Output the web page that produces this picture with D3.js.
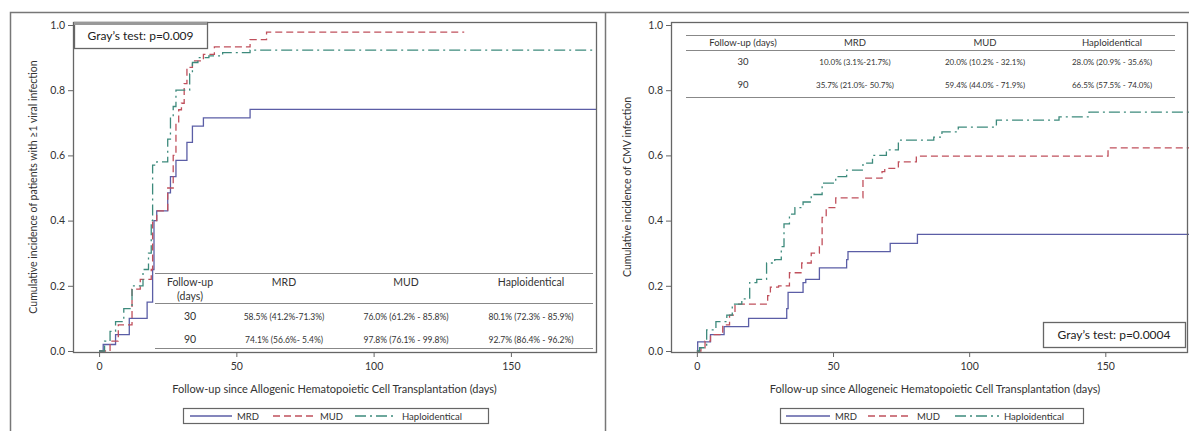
<!DOCTYPE html>
<html>
<head>
<meta charset="utf-8">
<script src="https://cdn.jsdelivr.net/npm/d3@7"></script>
<style>
  body { margin: 0; background: #fff; }
  svg { font-family: Lato, "Open Sans", sans-serif; }
</style>
</head>
<body>
<svg id="chart" width="1189" height="431"></svg>
<script>
// group names and tick values
const groups = ["MRD", "MUD", "Haploidentical"];
const xTicks = [0, 50, 100, 150];
const yTicks = [0, 0.2, 0.4, 0.6, 0.8, 1.0];
const tableDays = ["30", "90"];

// left panel: >=1 viral infection, [day, cumulative incidence]
const viralMRD = [[0, 0], [1.5, 0.02], [6, 0.05], [11, 0.10], [17.5, 0.15], [19.5, 0.25], [20, 0.40],
  [21, 0.43], [25, 0.485], [26, 0.535], [28, 0.585], [32, 0.64], [34, 0.69], [38, 0.715], [55, 0.741]];
const viralMUD = [[0, 0], [4, 0.03], [7, 0.08], [12, 0.19], [15, 0.22], [19, 0.25], [19.5, 0.40],
  [21, 0.43], [25, 0.50], [27, 0.60], [28, 0.70], [29, 0.74], [30, 0.76], [31, 0.82], [32, 0.87],
  [34, 0.89], [38, 0.91], [42, 0.933], [55, 0.955], [61, 0.978]];
const viralHaplo = [[0, 0], [2, 0.03], [4, 0.06], [6, 0.09], [9, 0.13], [12, 0.20], [16, 0.25],
  [18, 0.30], [19, 0.40], [19.5, 0.57], [21, 0.58], [25, 0.65], [26, 0.72], [27, 0.75], [28, 0.80],
  [33, 0.85], [34, 0.885], [36, 0.90], [40, 0.905], [45, 0.915], [55, 0.923]];
const viralEnd = [181, 133, 181];
const viralMRDci = ["58.5% (41.2%-71.3%)", "74.1% (56.6%- 5.4%)"];
const viralMUDci = ["76.0% (61.2% - 85.8%)", "97.8% (76.1% - 99.8%)"];
const viralHaploci = ["80.1% (72.3% - 85.9%)", "92.7% (86.4% - 96.2%)"];

// right panel: CMV infection
const cmvMRD = [[0, 0], [0.3, 0.028], [5, 0.05], [10, 0.075], [19, 0.10], [33, 0.13], [33.5, 0.18],
  [39, 0.21], [40, 0.22], [45, 0.255], [55, 0.28], [55.5, 0.305], [71, 0.33], [81, 0.358]];
const cmvMUD = [[0, 0], [1.5, 0.01], [3, 0.03], [5, 0.05], [9.5, 0.08], [12, 0.11], [14, 0.144],
  [26, 0.17], [27, 0.196], [30, 0.20], [34, 0.24], [38.5, 0.27], [42, 0.30], [45, 0.32], [46, 0.41],
  [47.5, 0.44], [51, 0.47], [61, 0.53], [68, 0.55], [69, 0.56], [74, 0.58], [80.6, 0.598], [151, 0.623]];
const cmvHaplo = [[0, 0], [1, 0.01], [3.6, 0.065], [7, 0.09], [11, 0.11], [13, 0.144], [16.5, 0.16],
  [19.4, 0.21], [22, 0.22], [25.6, 0.27], [28.6, 0.28], [31, 0.32], [32, 0.39], [34, 0.42], [36, 0.44],
  [39, 0.457], [42, 0.48], [46, 0.515], [51, 0.535], [55, 0.555], [61, 0.576], [64.5, 0.60],
  [69.6, 0.617], [74, 0.647], [87, 0.656], [90, 0.672], [96, 0.687], [110, 0.708], [133, 0.718], [144, 0.733]];
const cmvEnd = [181, 181, 181];
const cmvMRDci = ["10.0% (3.1%-21.7%)", "35.7% (21.0%- 50.7%)"];
const cmvMUDci = ["20.0% (10.2% - 32.1%)", "59.4% (44.0% - 71.9%)"];
const cmvHaploci = ["28.0% (20.9% - 35.6%)", "66.5% (57.5% - 74.0%)"];

const colors = ["#5b5ea6", "#c0505c", "#3d8a7c"];
const dashes = [null, "7,4", "11,4,2,4"];
const textColor = "#333";

const svg = d3.select("#chart");

// outer frame and divider
svg.append("rect").attr("x", 10.5).attr("y", 12.5).attr("width", 1200).attr("height", 440)
  .attr("fill", "none").attr("stroke", "#777").attr("stroke-width", 1.5);
svg.append("line").attr("x1", 605.5).attr("x2", 605.5).attr("y1", 12).attr("y2", 431)
  .attr("stroke", "#777").attr("stroke-width", 1.5);

function drawPanel(p) {
  const x = d3.scaleLinear().domain([-9.5, p.xMax]).range([p.left, p.right]);
  const y = d3.scaleLinear().domain([0, 1]).range([351, 25]);
  const g = svg.append("g");

  // curves
  const line = d3.line().curve(d3.curveStepAfter).x(d => x(d[0])).y(d => y(d[1]));
  p.series.forEach((s, i) => {
    const pts = s.concat([[p.ends[i], s[s.length - 1][1]]]);
    g.append("path").datum(pts)
      .attr("d", line)
      .attr("fill", "none")
      .attr("stroke", colors[i])
      .attr("stroke-width", 1.3)
      .attr("stroke-dasharray", dashes[i]);
  });

  // table
  const t = p.table;
  const tg = g.append("g").attr("fill", textColor).attr("font-size", t.fs);
  if (t.bg) {
    tg.append("rect").attr("x", t.x0).attr("y", t.lines[0]).attr("width", t.x1 - t.x0)
      .attr("height", t.lines[2] - t.lines[0]).attr("fill", "#fff");
  }
  t.lines.forEach(ly => {
    tg.append("line").attr("x1", t.x0).attr("x2", t.x1).attr("y1", ly + 0.5).attr("y2", ly + 0.5)
      .attr("stroke", "#888").attr("stroke-width", 1.2);
  });
  t.head.forEach((h, i) => {
    tg.append("text").attr("x", t.cols[i]).attr("y", t.headY[i] || t.headY[0])
      .attr("text-anchor", "middle").attr("font-size", t.hfs).text(h);
  });
  if (t.sub) {
    tg.append("text").attr("x", t.cols[0]).attr("y", t.subY)
      .attr("text-anchor", "middle").attr("font-size", t.hfs).text(t.sub);
  }
  tableDays.forEach((d, r) => {
    tg.append("text").attr("x", t.cols[0]).attr("y", t.rows[r])
      .attr("text-anchor", "middle").attr("font-size", t.hfs).text(d);
    t.ci.forEach((c, k) => {
      tg.append("text").attr("x", t.cols[k + 1]).attr("y", t.rows[r])
        .attr("text-anchor", "middle").text(c[r]);
    });
  });

  // plot frame
  g.append("rect").attr("x", p.left + 0.5).attr("y", 22.5)
    .attr("width", p.right - p.left).attr("height", 330)
    .attr("fill", "none").attr("stroke", "#666").attr("stroke-width", 1.3);

  // axes
  const xa = g.append("g").attr("transform", "translate(0,352)")
    .call(d3.axisBottom(x).tickValues(xTicks).tickSize(5).tickPadding(6).tickFormat(d3.format("d")));
  const ya = g.append("g").attr("transform", `translate(${p.left},0)`)
    .call(d3.axisLeft(y).tickValues(yTicks).tickSize(5).tickPadding(3).tickFormat(d3.format(".1f")));
  [xa, ya].forEach(a => {
    a.select(".domain").remove();
    a.selectAll("line").attr("stroke", "#666");
    a.selectAll("text").attr("fill", textColor).attr("font-size", 10.5).attr("font-family", "Lato");
  });

  // titles
  g.append("text").attr("x", (p.left + p.right) / 2 + p.xtOff).attr("y", 393)
    .attr("text-anchor", "middle").attr("font-size", 11).attr("fill", textColor).text(p.xTitle);
  g.append("text").attr("transform", `translate(${p.ytX},187) rotate(-90)`)
    .attr("text-anchor", "middle").attr("font-size", 10.5).attr("fill", textColor).text(p.yTitle);

  // Gray's test box
  const b = p.gray;
  g.append("rect").attr("x", b.x + 0.5).attr("y", b.y + 0.5).attr("width", b.w).attr("height", b.h)
    .attr("fill", "#fff").attr("stroke", "#666").attr("stroke-width", 1.3);
  if (b.thickTop) {
    g.append("line").attr("x1", b.x).attr("x2", b.x + b.w).attr("y1", b.y + 1.5).attr("y2", b.y + 1.5)
      .attr("stroke", "#999").attr("stroke-width", 3);
  }
  g.append("text").attr("x", b.x + b.w / 2).attr("y", b.y + b.h / 2 + 4.5)
    .attr("text-anchor", "middle").attr("font-size", 12).attr("fill", "#222").text(b.text);

  // legend
  const L = p.legend;
  g.append("rect").attr("x", L.x + 0.5).attr("y", 408.5).attr("width", L.w).attr("height", 15)
    .attr("fill", "#fff").attr("stroke", "#666").attr("stroke-width", 1.2);
  groups.forEach((name, i) => {
    const lx = L.items[i];
    g.append("line").attr("x1", lx).attr("x2", lx + L.len).attr("y1", 416).attr("y2", 416)
      .attr("stroke", colors[i]).attr("stroke-width", 1.3).attr("stroke-dasharray", dashes[i]);
    g.append("text").attr("x", lx + L.len + 5).attr("y", 419.5)
      .attr("font-size", 9.5).attr("fill", textColor).text(name);
  });
}

drawPanel({
  left: 73, right: 596, xMax: 181,
  series: [viralMRD, viralMUD, viralHaplo], ends: viralEnd,
  xTitle: "Follow-up since Allogenic Hematopoietic Cell Transplantation (days)", xtOff: 0,
  yTitle: "Cumulative incidence of patients with \u22651 viral infection", ytX: 37,
  gray: { x: 74, y: 22, w: 133, h: 26, text: "Gray\u2019s test: p=0.009", thickTop: true },
  legend: { x: 183, w: 305, len: 42, items: [190, 273, 355] },
  table: {
    x0: 155, x1: 593, lines: [273, 303, 348], bg: true, fs: 8.5, hfs: 10.5,
    cols: [190, 284, 406, 531], head: ["Follow-up", "MRD", "MUD", "Haploidentical"],
    headY: [286], sub: "(days)", subY: 300, rows: [320, 343],
    ci: [viralMRDci, viralMUDci, viralHaploci]
  }
});

drawPanel({
  left: 671, right: 1187, xMax: 180,
  series: [cmvMRD, cmvMUD, cmvHaplo], ends: cmvEnd,
  xTitle: "Follow-up since Allogeneic Hematopoietic Cell Transplantation (days)", xtOff: 6,
  yTitle: "Cumulative incidence of CMV infection", ytX: 631,
  gray: { x: 1043, y: 322, w: 142, h: 25, text: "Gray\u2019s test: p=0.0004", thickTop: false },
  legend: { x: 780, w: 303, len: 44, items: [786, 868, 955] },
  table: {
    x0: 686, x1: 1175, lines: [35, 50, 97], bg: false, fs: 8, hfs: 9.5,
    cols: [743, 855, 985, 1112], head: ["Follow-up (days)", "MRD", "MUD", "Haploidentical"],
    headY: [46], rows: [65, 88],
    ci: [cmvMRDci, cmvMUDci, cmvHaploci]
  }
});
</script>
</body>
</html>
